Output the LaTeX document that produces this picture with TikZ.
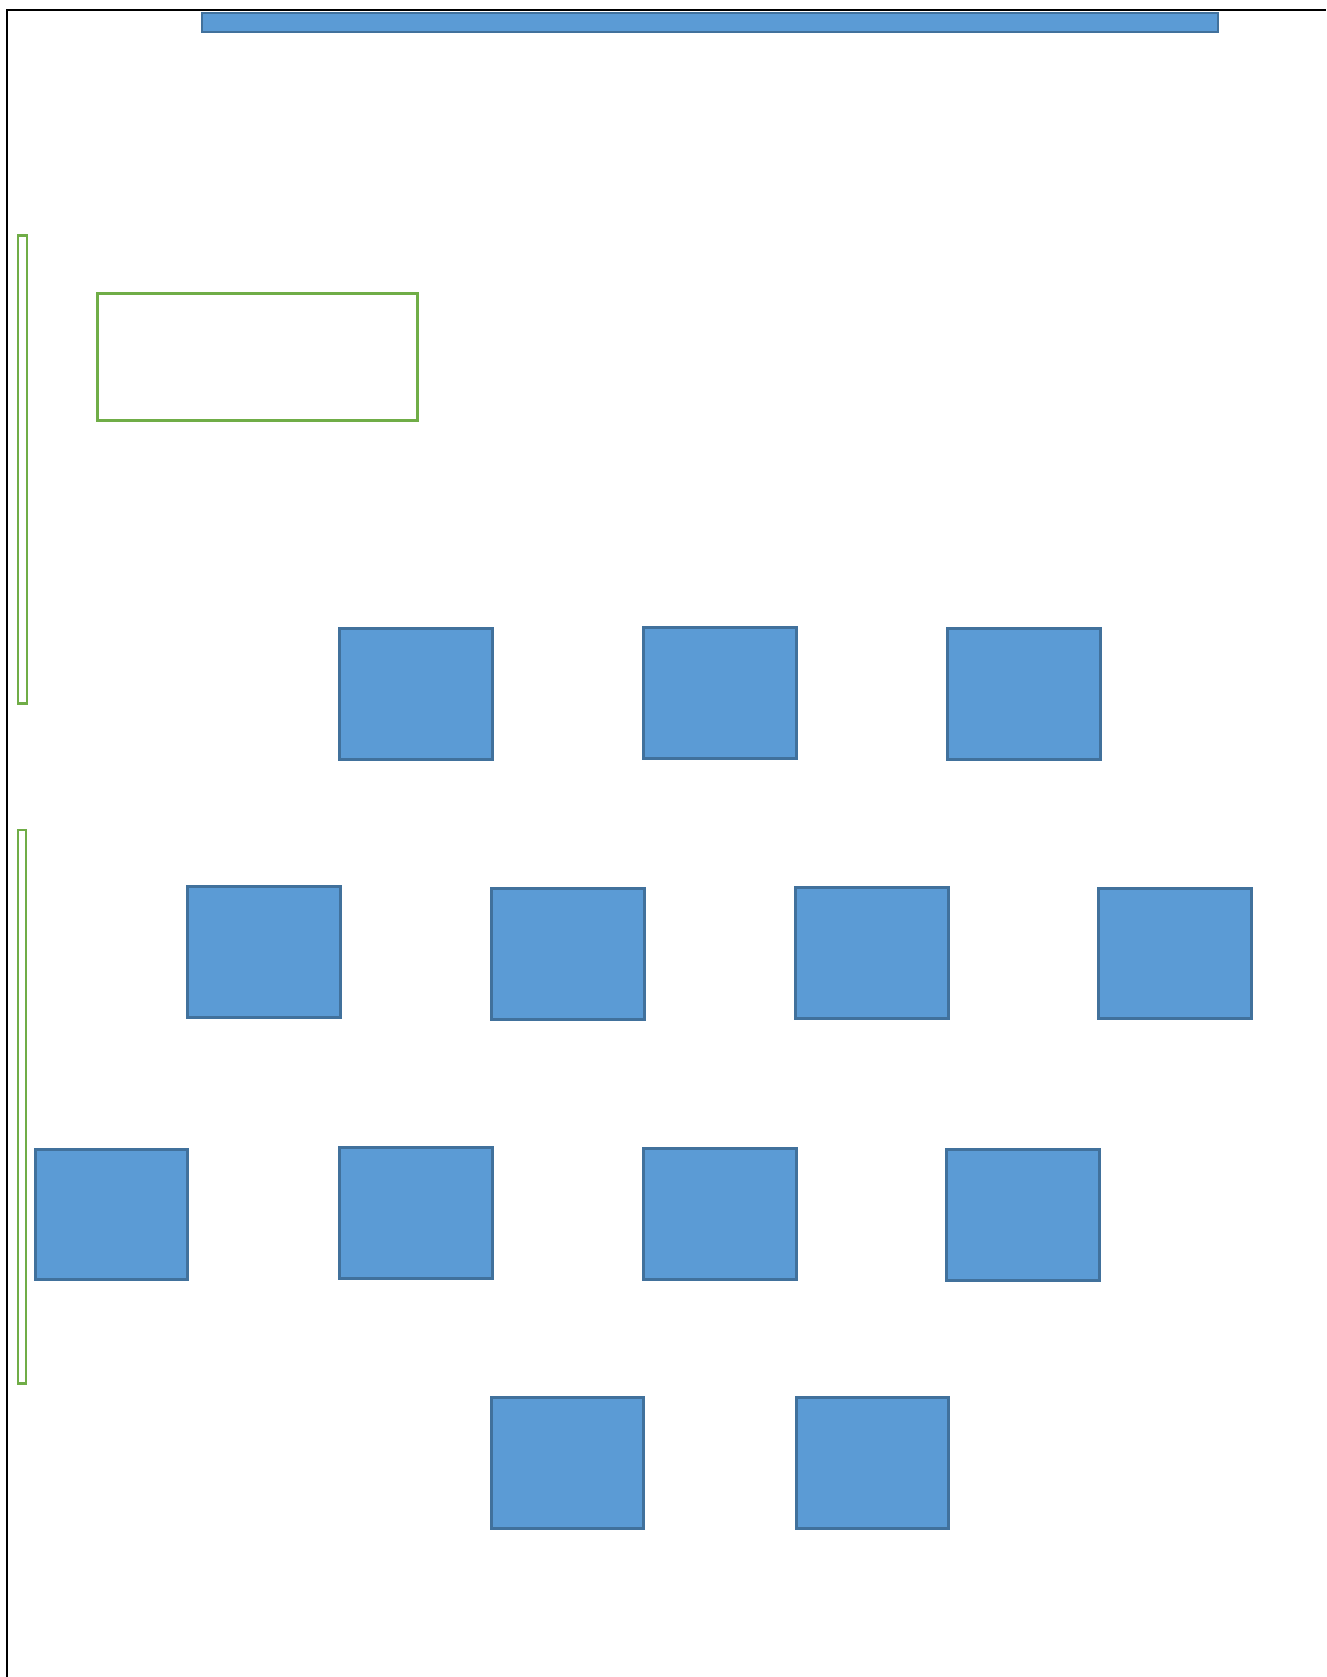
\documentclass[tikz,border=0pt]{standalone}
\usepackage{tikz}
\usetikzlibrary{positioning}
\definecolor{tableblue}{RGB}{91,155,213}
\definecolor{tableedge}{RGB}{65,113,156}
\definecolor{leafgreen}{RGB}{112,173,71}

\begin{document}
\begin{tikzpicture}[x=0.02cm, y=-0.02cm]
\tikzstyle{table} = [rectangle, inner sep=0pt, minimum width=3.05cm, minimum height=2.61cm, draw=tableedge, fill=tableblue, line width=1.5pt]
\tikzstyle{board} = [rectangle, inner sep=0pt, minimum width=20.33cm, minimum height=0.38cm, draw=tableedge, fill=tableblue, line width=1.5pt]
\tikzstyle{outline} = [rectangle, inner sep=0pt, draw=leafgreen, fill=white, line width=1.2pt]
\tikzstyle{frame} = [black, line width=1.1pt]

\useasboundingbox (0,0) rectangle (1326,1677);

% page frame
\coordinate (frameBL) at (7,1677);
\coordinate (frameTL) at (7,10);
\coordinate (frameTR) at (1326,10);
\draw [frame] (frameBL) -- (frameTL) -- (frameTR);

\node (board) [board] at (710,22.5) {};
\node (desk) [outline, minimum width=6.4cm, minimum height=2.54cm] at (257.5,357) {};
\node (windowA) [outline, minimum width=0.18cm, minimum height=9.36cm] at (22.5,469.5) {};
\node (windowB) [outline, minimum width=0.16cm, minimum height=11.08cm] at (22,1106.5) {};

% row 1
\node (tableA1) [table] at (416,694) {};
\node (tableA2) [table] at (720,693) {};
\node (tableA3) [table] at (1024,694) {};

% row 2
\node (tableB1) [table] at (264,952) {};
\node (tableB2) [table] at (568,954) {};
\node (tableB3) [table] at (872,953) {};
\node (tableB4) [table] at (1175,953.5) {};

% row 3
\node (tableC1) [table] at (111.5,1214.5) {};
\node (tableC2) [table] at (416,1213) {};
\node (tableC3) [table] at (720,1214) {};
\node (tableC4) [table] at (1023,1215) {};

% row 4
\node (tableD1) [table] at (567.5,1463) {};
\node (tableD2) [table] at (872.5,1463) {};
\end{tikzpicture}
\end{document}
